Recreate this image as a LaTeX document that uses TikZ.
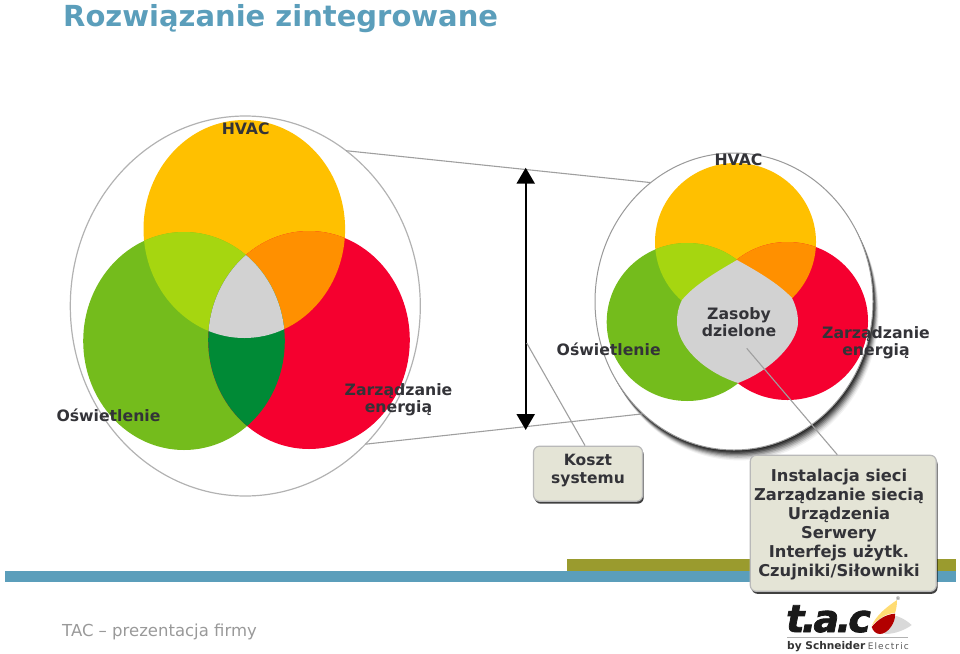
\documentclass[tikz,border=0pt]{standalone}
\usepackage{fontspec}
\setmainfont{DejaVu Sans}
\usetikzlibrary{arrows.meta,shapes.geometric,shadows}
\definecolor{tacblue}{HTML}{5B9EBB}
\definecolor{tacolive}{HTML}{9A9B2E}
\definecolor{hvacyellow}{HTML}{FFC000}
\definecolor{lightgreen}{HTML}{74BC1C}
\definecolor{energyred}{HTML}{F5002F}
\definecolor{limegreen}{HTML}{A6D610}
\definecolor{mixorange}{HTML}{FF9000}
\definecolor{darkgreen}{HTML}{008A36}
\definecolor{sharedgrey}{HTML}{D2D2D2}
\definecolor{boxfill}{HTML}{E4E4D6}
\definecolor{labeltext}{HTML}{333338}
\newcommand{\yellowL}{(244.3,229) ellipse [x radius=100.8,y radius=109]}
\newcommand{\greenL}{(184,341) ellipse [x radius=100.8,y radius=109]}
\newcommand{\redL}{(309,340) ellipse [x radius=100.8,y radius=109]}
\newcommand{\yellowR}{(735.5,242) ellipse [x radius=80.5,y radius=79]}
\newcommand{\greenR}{(687.2,322) ellipse [x radius=80.5,y radius=79]}
\newcommand{\redR}{(787.5,321) ellipse [x radius=80.5,y radius=79]}
\tikzset{
  bigcircle/.style={ellipse,draw=gray!60,line width=1.2pt,inner sep=0pt,outer sep=0pt},
  venntext/.style={font=\bfseries\fontsize{15.7}{17}\selectfont,text=labeltext,align=center,inner sep=0pt},
  boxshape/.style={rectangle,rounded corners=6pt,draw=gray!55,line width=1.2pt,fill=boxfill,inner sep=0pt,
    drop shadow={shadow xshift=1.2pt,shadow yshift=-2.5pt,fill=black,opacity=.75}},
  boxtext/.style={text=labeltext,align=center,inner sep=0pt},
  thinline/.style={draw=gray!75,line width=1.1pt}
}
\begin{document}
\begin{tikzpicture}[x=1pt,y=-1pt]
\useasboundingbox (0,0) rectangle (960,653);
\fill[tacolive] (566.7,559.3) rectangle (956,571);
\fill[tacblue] (4.7,570.7) rectangle (956,582.3);
\node[font=\bfseries\fontsize{29}{32}\selectfont,text=tacblue,anchor=base west,inner sep=0pt] (title) at (63,26) {Rozwiązanie zintegrowane};
\node[font=\fontsize{16.5}{19}\selectfont,text=gray!80,anchor=base west,inner sep=0pt] (footer) at (62,636) {TAC – prezentacja firmy};
%left circle
\node[bigcircle,minimum width=350pt,minimum height=380pt] (circleL) at (245.3,306) {};
\fill[hvacyellow] \yellowL;
\fill[lightgreen] \greenL;
\fill[energyred] \redL;
\begin{scope}\clip \yellowL; \fill[limegreen] \greenL; \fill[mixorange] \redL; \end{scope}
\begin{scope}\clip \greenL; \fill[darkgreen] \redL; \end{scope}
\begin{scope}\clip \yellowL; \clip \greenL; \fill[sharedgrey] \redL; \end{scope}
%right circle
\foreach \s/\o in {8/.05,7/.08,6/.12,5/.16,4/.2,3/.28,2/.34,1/.4}
  \fill[black,opacity=\o] (734+.7*\s,301.5+1.3*\s) ellipse [x radius=139,y radius=148.5];
\node[bigcircle,draw=gray!80,line width=1pt,fill=white,minimum width=278pt,minimum height=297pt] (circleR) at (734,301.5) {};
\fill[hvacyellow] \yellowR;
\fill[lightgreen] \greenR;
\fill[energyred] \redR;
\begin{scope}\clip \yellowR; \fill[limegreen] \greenR; \fill[mixorange] \redR; \end{scope}
\fill[sharedgrey] (737,260) .. controls (755,270) and (778,283) .. (792,298)
  .. controls (796,306) and (798,314) .. (798,322)
  .. controls (798,342) and (772,370) .. (738,383)
  .. controls (702,371) and (677,345) .. (677,322)
  .. controls (677,314) and (678,308) .. (682,300)
  .. controls (695,284) and (720,270) .. (737,260) -- cycle;
\draw[thinline] (circleL.57.7) -- (circleR.125.3);
\draw[thinline] (circleL.-49.8) -- (circleR.231.7);
\coordinate (arrowTop) at (525.7,167.7);
\coordinate (arrowBottom) at (525.7,430);
\coordinate (kosztTick) at (526.7,343);
\coordinate (zasobyTick) at (746.7,348.3);
\draw[{Triangle[length=16pt,width=18pt]}-{Triangle[length=16pt,width=18pt]},line width=2.4pt] (arrowTop) -- (arrowBottom);
\node[boxshape,minimum width=109pt,minimum height=55pt] (kosztBox) at (588,473.7) {};
\node[boxshape,minimum width=186pt,minimum height=136pt] (sieciBox) at (843.3,523.3) {};
\node[boxtext,font=\bfseries\fontsize{15.5}{17.5}\selectfont] (kosztText) at (588,470.5) {Koszt\\systemu};
\node[boxtext,font=\bfseries\fontsize{16.3}{19}\selectfont] (sieciText) at (839,524.5) {Instalacja sieci\\Zarządzanie siecią\\Urządzenia\\Serwery\\Interfejs użytk.\\Czujniki/Siłowniki};
\draw[thinline] (kosztTick) -- (kosztBox.96);
\draw[thinline] (zasobyTick) -- (sieciBox.95.5);
\node[venntext] (hvacL) at (245.7,129) {HVAC};
\node[venntext] (oswL) at (108.5,415.5) {Oświetlenie};
\node[venntext] (energyL) at (398.5,399.5) {Zarządzanie\\energią};
\node[venntext] (hvacR) at (738.5,159.5) {HVAC};
\node[venntext] (oswR) at (608.7,349) {Oświetlenie};
\node[venntext] (zasoby) at (739,322) {Zasoby\\dzielone};
\node[venntext] (energyR) at (876,342.5) {Zarządzanie\\energią};
%logo
\fill[gray!30] (876,622) .. controls (885,612) and (898,613) .. (911.7,625) .. controls (905,630) and (895,634) .. (885,634) -- cycle;
\fill[hvacyellow!55] (897,600) .. controls (897,606) and (896,610) .. (895,613) .. controls (888,613) and (878,618) .. (871.7,626) .. controls (876,615) and (888,606) .. (897,600) -- cycle;
\fill[red!70!black] (871.7,627) .. controls (878,619) and (887,614) .. (895,613.7) .. controls (896,622) and (888,634) .. (880,634) .. controls (876,634) and (873,631) .. (871.7,627) -- cycle;
\node[font=\fontsize{5}{5}\selectfont,text=black!70,inner sep=0pt] (regmark) at (898,598.5) {®};
\node[font=\bfseries\itshape\fontsize{38}{38}\selectfont\addfontfeature{FakeBold=2,LetterSpace=-7},text=black!90,anchor=base west,inner sep=0pt] (logo) at (786,632) {t.a.c};
\draw[gray!60,line width=.8pt] (787,637) -- (908,637);
\node[font=\bfseries\fontsize{10.6}{11}\selectfont,text=black!80,anchor=base west,inner sep=0pt] (byline) at (787,649.5) {by Schneider};
\node[font=\fontsize{9}{10}\selectfont\addfontfeature{LetterSpace=12},text=black!65,anchor=base east,inner sep=0pt] (electric) at (909,649.5) {Electric};
\end{tikzpicture}
\end{document}
